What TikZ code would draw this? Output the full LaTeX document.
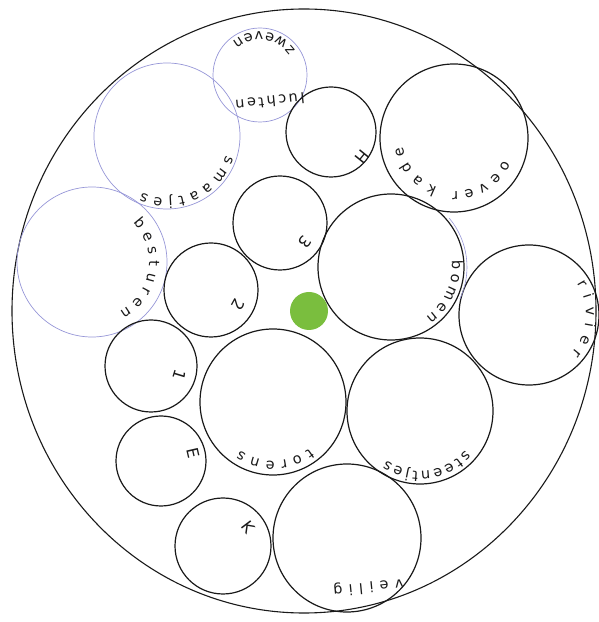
\documentclass[tikz,border=0pt]{standalone}
\usepackage{fontspec}
\usetikzlibrary{decorations.text}
\newfontfamily\handfam{DejaVu Sans}
\newcommand\hwfont{\handfam\fontsize{14.5}{14.5}\selectfont}
\newcommand\hwbig{\handfam\fontsize{16}{16}\selectfont}
\definecolor{pen}{RGB}{150,150,215}
\definecolor{ink}{RGB}{25,25,25}
\definecolor{dot}{RGB}{122,190,62}
\begin{document}
\begin{tikzpicture}[x=1pt,y=1pt,
  blk/.style={circle,draw=ink,line width=1.2pt,inner sep=0pt,minimum size=#1},
  blu/.style={circle,draw=pen,line width=0.7pt,inner sep=0pt,minimum size=#1},
  lab/.style={font=\hwbig,text=ink,inner sep=0pt},
  arctext/.style={decorate,decoration={text along path,text align={fit to path},text={|\hwfont\color{ink}|#1}}}]
\useasboundingbox (0,0) rectangle (599,622);
\coordinate (bigc) at (304,311);
\draw[ink,line width=1.1pt] (bigc) ellipse [x radius=292,y radius=302];
% blue circles
\node[blu=94pt] (zw) at (260,547) {};
\node[blu=146pt] (sm) at (167,486) {};
\node[blu=150pt] (be) at (92,360) {};
% black circles
\node[blk=90pt] (hh) at (331,490) {};
\node[blk=148pt] (oe) at (454,484) {};
\node[blk=94pt] (dr) at (280,399) {};
\node[blk=146pt] (bo) at (391,355) {};
\node[blk=140pt] (ri) at (529,307) {};
\node[blk=94pt] (tw) at (211,332) {};
\node[blk=92pt] (ee) at (151,256) {};
\node[blk=90pt] (ei) at (161,161) {};
\node[blk=146pt] (to) at (273,220) {};
\node[blk=146pt] (st) at (420,211) {};
\node[blk=96pt] (ka) at (223,76) {};
\node[blk=148pt] (ve) at (347,84) {};
\node[circle,fill=dot,inner sep=0pt,minimum size=38pt] (gr) at (309,311) {};
\draw[pen,line width=0.6pt] (bo.center) ++(40:76) arc[start angle=40,end angle=-25,radius=76];
% curved labels
\path[arctext=zweven] (zw.center) ++(35:43) arc[start angle=35,end angle=130,radius=43];
\coordinate (lu1) at (304,529);
\coordinate (lu2) at (235,522);
\path[arctext=luchten] (lu1) -- (lu2);
\path[arctext=smaatjes] (sm.center) ++(-18:62) arc[start angle=-18,end angle=-114,radius=62];
\path[arctext=besturen] (be.center) ++(44:57) arc[start angle=44,end angle=-61,radius=57];
\path[arctext=oever] (oe.center) ++(-24:54) arc[start angle=-24,end angle=-92,radius=54];
\path[arctext=kade] (oe.center) ++(-109:52) arc[start angle=-109,end angle=-170,radius=52];
\path[arctext=bomen] (bo.center) ++(6:61) arc[start angle=6,end angle=-55,radius=61];
\path[arctext=rivier] (ri.center) ++(33:57) arc[start angle=33,end angle=-42,radius=57];
\path[arctext=torens] (to.center) ++(-52:59) arc[start angle=-52,end angle=-124,radius=59];
\path[arctext=steentjes] (st.center) ++(-41:60) arc[start angle=-41,end angle=-124,radius=60];
\coordinate (vg1) at (403,43);
\coordinate (vg2) at (333,36);
\path[arctext=veilig] (vg1) -- (vg2);
% single labels
\node[lab,rotate=-129] (lbh) at (362,465) {H};
\node[lab,rotate=-127] (lb3) at (305,380) {3};
\node[lab,rotate=-119] (lb2) at (238,317) {2};
\node[lab,rotate=-107] (lb1) at (180,247) {1};
\node[lab,rotate=-77] (lbe) at (193,169) {E};
\node[lab,rotate=-53] (lbk) at (248,95) {K};
\end{tikzpicture}
\end{document}
